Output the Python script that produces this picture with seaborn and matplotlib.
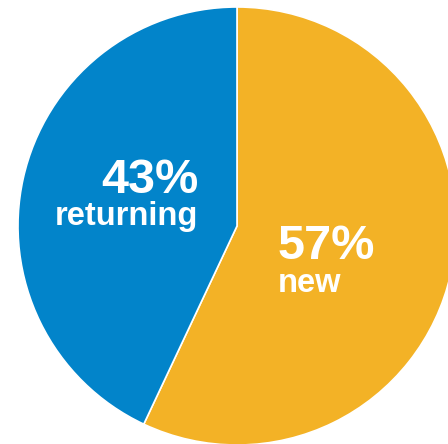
import matplotlib
matplotlib.use("Agg")
import matplotlib.pyplot as plt
import seaborn as sns

categories = ["new", "returning"]
values = [57, 43]
pct_labels = ["57%", "43%"]
colors = ["#F3B226", "#0284CA"]

sns.set_theme(style="white")
plt.rcParams['font.family'] = ['Liberation Sans', 'DejaVu Sans']

fig = plt.figure(figsize=(4.48, 4.44), dpi=100)
ax = fig.add_axes([0, 0, 1, 1])

ax.pie(values, colors=colors, startangle=90, counterclock=False,
       center=(237, 218), radius=219, frame=True,
       wedgeprops=dict(edgecolor='white', linewidth=1.2))
ax.set_xlim(0, 448)
ax.set_ylim(0, 444)
ax.set_aspect('equal')
ax.axis('off')

# labels
ax.text(198, 251, pct_labels[1], ha='right', va='baseline', color='white',
        fontsize=35, fontweight='bold')
ax.text(198, 219, categories[1], ha='right', va='baseline', color='white',
        fontsize=23.5, fontweight='bold')
ax.text(278, 185, pct_labels[0], ha='left', va='baseline', color='white',
        fontsize=35, fontweight='bold')
ax.text(278, 152, categories[0], ha='left', va='baseline', color='white',
        fontsize=23.5, fontweight='bold')

fig.savefig("out.png", dpi=100)
